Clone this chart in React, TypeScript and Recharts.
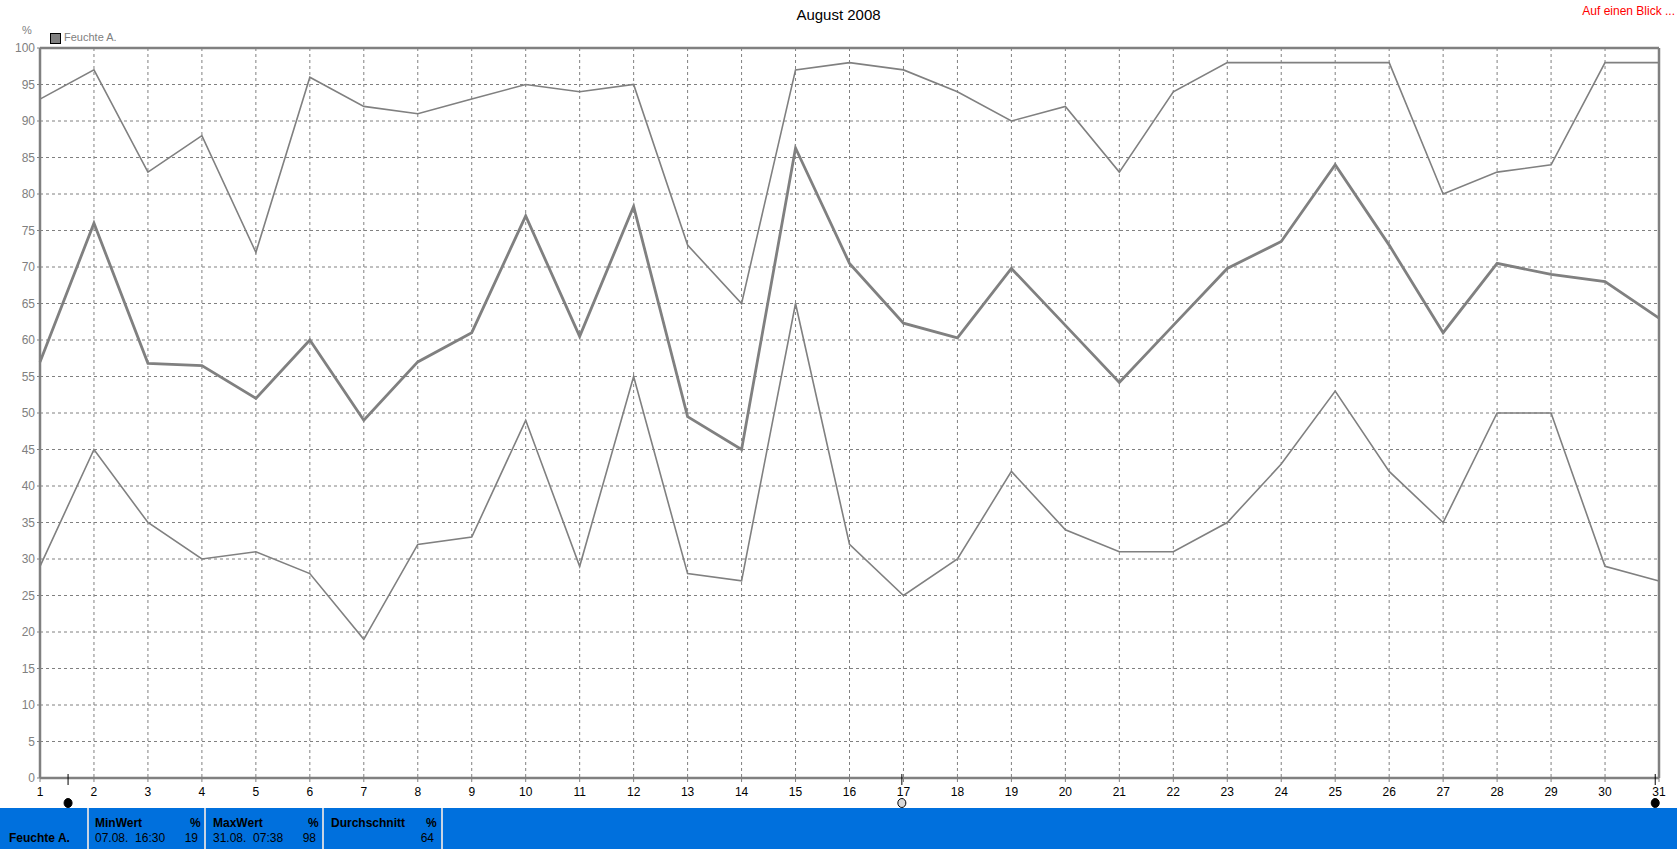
import React from 'react';
import {
  LineChart,
  Line,
  XAxis,
  YAxis,
  CartesianGrid,
  ReferenceLine,
  ReferenceDot,
} from 'recharts';

const days = [1, 2, 3, 4, 5, 6, 7, 8, 9, 10, 11, 12, 13, 14, 15, 16, 17, 18, 19, 20, 21, 22, 23, 24, 25, 26, 27, 28, 29, 30, 31];
const maxValues = [93, 97, 83, 88, 72, 96, 92, 91, 93, 95, 94, 95, 73, 65, 97, 98, 97, 94, 90, 92, 83, 94, 98, 98, 98, 98, 80, 83, 84, 98, 98];
const avgValues = [57, 76, 56.8, 56.5, 52, 60, 49, 57, 61, 77, 60.5, 78.3, 49.5, 45, 86.3, 70.5, 62.3, 60.3, 69.8, 62, 54.2, 62, 69.8, 73.5, 84, 73, 61, 70.5, 69, 68, 63];
const minValues = [29, 45, 35, 30, 31, 28, 19, 32, 33, 49, 29, 55, 28, 27, 65, 32, 25, 30, 42, 34, 31, 31, 35, 43, 53, 42, 35, 50, 50, 29, 27];
const yTicks = [0, 5, 10, 15, 20, 25, 30, 35, 40, 45, 50, 55, 60, 65, 70, 75, 80, 85, 90, 95, 100];
// moon phase marks under the x axis
const moonDays = [1.52, 16.97, 30.93];
const moonFills = ['#000000', '#d8d8d8', '#000000'];

const data = days.map((d, i) => ({ day: d, max: maxValues[i], avg: avgValues[i], min: minValues[i] }));

const GRAY = '#808080';
const FONT = '"Liberation Sans", Arial, sans-serif';

function MoonMark(fill: string) {
  return (props: any) => {
    const { cx, cy } = props;
    return (
      <g>
        <line x1={cx} x2={cx} y1={cy - 4} y2={cy + 7} stroke="#000" strokeWidth={1} />
        <ellipse cx={cx} cy={cy + 25} rx={4} ry={4.5} fill={fill} stroke="#000" strokeWidth={1} />
      </g>
    );
  };
}

const cellText: React.CSSProperties = {
  position: 'absolute',
  fontFamily: FONT,
  fontSize: 12,
  color: '#000',
  whiteSpace: 'pre',
  lineHeight: '14px',
};

export default function App() {
  return (
    <div style={{ position: 'absolute', left: 0, top: 0, width: 1677, height: 849, background: '#fff', overflow: 'hidden' }}>
      <div style={{ position: 'absolute', left: 0, top: 0 }}>
        <LineChart width={1677} height={808} data={data} margin={{ top: 48, right: 18, left: 0, bottom: 0 }}>
          <CartesianGrid stroke={GRAY} strokeDasharray="3 3" strokeWidth={1} />
          <XAxis
            dataKey="day"
            type="number"
            domain={[1, 31]}
            ticks={days}
            interval={0}
            height={30}
            tick={{ fill: '#000', fontSize: 12, fontFamily: FONT }}
            tickSize={4}
            tickMargin={5}
            axisLine={{ stroke: GRAY, strokeWidth: 2.5 }}
            tickLine={{ stroke: GRAY }}
          />
          <YAxis
            domain={[0, 100]}
            ticks={yTicks}
            interval={0}
            width={40}
            tick={{ fill: GRAY, fontSize: 12, fontFamily: FONT }}
            tickSize={3}
            tickMargin={2}
            axisLine={{ stroke: GRAY, strokeWidth: 2.5 }}
            tickLine={{ stroke: GRAY }}
          />
          <ReferenceLine y={100} stroke={GRAY} strokeWidth={2.5} />
          <ReferenceLine x={31} stroke={GRAY} strokeWidth={2.5} />
          <Line type="linear" dataKey="max" stroke={GRAY} strokeWidth={1.6} dot={false} isAnimationActive={false} />
          <Line type="linear" dataKey="avg" stroke={GRAY} strokeWidth={2.8} dot={false} isAnimationActive={false} />
          <Line type="linear" dataKey="min" stroke={GRAY} strokeWidth={1.6} dot={false} isAnimationActive={false} />
          {moonDays.map((d, i) => (
            <ReferenceDot key={d} x={d} y={0} ifOverflow="visible" shape={MoonMark(moonFills[i])} />
          ))}
        </LineChart>
      </div>

      <div style={{ position: 'absolute', left: 0, width: 1677, top: 6, textAlign: 'center', fontFamily: FONT, fontSize: 15, color: '#000' }}>
        August 2008
      </div>
      <div style={{ position: 'absolute', right: 2, top: 4, fontFamily: FONT, fontSize: 12, color: '#ff0000' }}>
        Auf einen Blick ...
      </div>
      <div style={{ position: 'absolute', left: 22, top: 24, fontFamily: FONT, fontSize: 11, color: GRAY }}>%</div>
      <div style={{ position: 'absolute', left: 50, top: 33, width: 9, height: 9, background: GRAY, border: '1px solid #000' }} />
      <div style={{ position: 'absolute', left: 64, top: 31, fontFamily: FONT, fontSize: 11, color: GRAY }}>Feuchte A.</div>

      <div style={{ position: 'absolute', left: 0, top: 808, width: 1677, height: 41, background: '#0070DD' }}>
        {[87, 204, 322, 441].map((x) => (
          <div key={x} style={{ position: 'absolute', left: x, top: 0, width: 2, height: 41, background: '#c8d4e4' }} />
        ))}
        <div style={{ ...cellText, left: 9, top: 23, fontWeight: 'bold' }}>Feuchte A.</div>

        <div style={{ ...cellText, left: 95, top: 8, fontWeight: 'bold' }}>MinWert</div>
        <div style={{ ...cellText, left: 190, top: 8, fontWeight: 'bold' }}>%</div>
        <div style={{ ...cellText, left: 95, top: 23 }}>07.08.  16:30</div>
        <div style={{ ...cellText, left: 150, width: 48, top: 23, textAlign: 'right' }}>19</div>

        <div style={{ ...cellText, left: 213, top: 8, fontWeight: 'bold' }}>MaxWert</div>
        <div style={{ ...cellText, left: 308, top: 8, fontWeight: 'bold' }}>%</div>
        <div style={{ ...cellText, left: 213, top: 23 }}>31.08.  07:38</div>
        <div style={{ ...cellText, left: 268, width: 48, top: 23, textAlign: 'right' }}>98</div>

        <div style={{ ...cellText, left: 331, top: 8, fontWeight: 'bold' }}>Durchschnitt</div>
        <div style={{ ...cellText, left: 426, top: 8, fontWeight: 'bold' }}>%</div>
        <div style={{ ...cellText, left: 386, width: 48, top: 23, textAlign: 'right' }}>64</div>
      </div>
    </div>
  );
}
